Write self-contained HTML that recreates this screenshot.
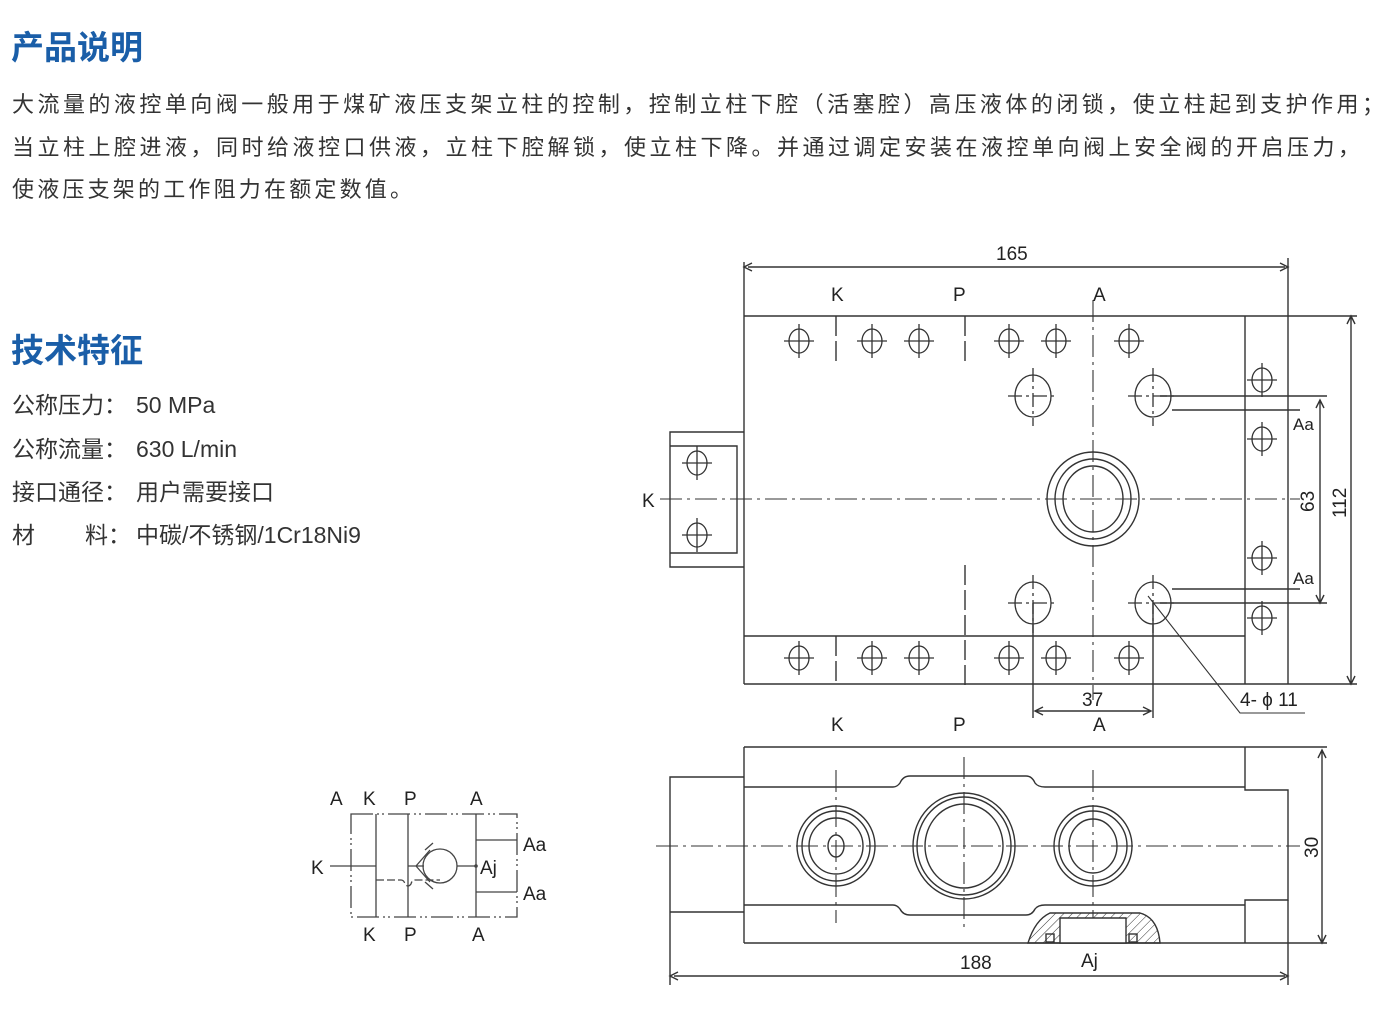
<!DOCTYPE html>
<html><head><meta charset="utf-8"><style>
body{margin:0;background:#fff}
svg{display:block}
.t{font-family:"Liberation Sans","Noto Sans CJK SC",sans-serif;fill:#333}
.h{font-family:"Liberation Sans","Noto Sans CJK SC",sans-serif;fill:#1a5ea8;font-weight:bold;font-size:33px}
.d{font-family:"Liberation Sans",sans-serif;fill:#222;font-size:19px}
</style></head><body>
<svg width="1392" height="1028" viewBox="0 0 1392 1028" xmlns="http://www.w3.org/2000/svg">
<text class="h" x="11" y="59">产品说明</text>
<g class="t" font-size="22">
<text x="12" y="112" textLength="1372">大流量的液控单向阀一般用于煤矿液压支架立柱的控制，控制立柱下腔（活塞腔）高压液体的闭锁，使立柱起到支护作用；</text>
<text x="12" y="155" textLength="1348">当立柱上腔进液，同时给液控口供液，立柱下腔解锁，使立柱下降。并通过调定安装在液控单向阀上安全阀的开启压力，</text>
<text x="12" y="197" textLength="400">使液压支架的工作阻力在额定数值。</text>
</g>
<g class="t" font-size="23">
<text x="12" y="413">公称压力：</text><text x="136" y="413">50 MPa</text>
<text x="12" y="457">公称流量：</text><text x="136" y="457">630 L/min</text>
<text x="12" y="500">接口通径：</text><text x="136" y="500">用户需要接口</text>
<text x="12" y="543">材</text><text x="85" y="543">料：</text><text x="136" y="543">中碳/不锈钢/1Cr18Ni9</text>
</g>
<text class="h" x="11" y="362">技术特征</text>

<defs>
<g id="ch"><ellipse cx="0" cy="0" rx="10" ry="12" fill="none" stroke="#333" stroke-width="1.3"/><path d="M-15 0H15M0-17V17" stroke="#333" stroke-width="1.3"/></g>
<g id="mh"><ellipse cx="0" cy="0" rx="18" ry="21" fill="none" stroke="#333" stroke-width="1.3"/><path d="M-25 0H25M0-28V30" stroke="#333" stroke-width="1.3" stroke-dasharray="14 4 3 4"/></g>
<pattern id="hat" width="6" height="6" patternUnits="userSpaceOnUse" patternTransform="rotate(45)"><line x1="0" y1="0" x2="0" y2="6" stroke="#333" stroke-width="1"/></pattern>
</defs>

<g fill="none" stroke="#333" stroke-width="1.4">
<path d="M744 262V684M1288 258V684M744 316H1357M744 684H1357M1245 316V684M744 636H1245M748 267H1285"/>
<path d="M752 263L744 267L752 271M1280 263L1288 267L1280 271" />
<path d="M744 432H670V567H744M670 446H737V553H670"/>
<path d="M836 316V366M965 316V366M836 636V684M965 565V690" stroke-dasharray="20 5"/>
<path d="M1093 300V700M660 499H1300" stroke-width="1.1" stroke-dasharray="22 5 3 5"/>
<ellipse cx="1093" cy="499" rx="46" ry="47"/><ellipse cx="1093" cy="499" rx="38" ry="40"/><ellipse cx="1093" cy="499" rx="30" ry="33"/>
<path d="M1160 396H1327M1160 603H1327M1172 410H1300M1172 589H1300" />
<path d="M1320 400V603M1316 408L1320 400L1324 408M1316 595L1320 603L1324 595M1351 316V684M1347 324L1351 316L1355 324M1347 676L1351 684L1355 676"/>
<path d="M1033 603V718M1153 603V718M1036 711H1150M1043 707L1035 711L1043 715M1143 707L1151 711L1143 715"/>
<path d="M1148 596L1240 713H1305" stroke-width="1.1"/>
</g>
<g>
<use href="#ch" x="799" y="341"/><use href="#ch" x="872" y="341"/><use href="#ch" x="919" y="341"/><use href="#ch" x="1009" y="341"/><use href="#ch" x="1056" y="341"/><use href="#ch" x="1129" y="341"/>
<use href="#ch" x="799" y="658"/><use href="#ch" x="872" y="658"/><use href="#ch" x="919" y="658"/><use href="#ch" x="1009" y="658"/><use href="#ch" x="1056" y="658"/><use href="#ch" x="1129" y="658"/>
<use href="#ch" x="1262" y="380"/><use href="#ch" x="1262" y="439"/><use href="#ch" x="1262" y="558"/><use href="#ch" x="1262" y="618"/>
<use href="#ch" x="697" y="463"/><use href="#ch" x="697" y="535"/>
<use href="#mh" x="1033" y="396"/><use href="#mh" x="1153" y="396"/><use href="#mh" x="1033" y="603"/><use href="#mh" x="1153" y="603"/>
</g>
<g class="d">
<text x="996" y="260">165</text>
<text x="831" y="301">K</text><text x="953" y="301">P</text><text x="1093" y="301">A</text>
<text x="642" y="507">K</text>
<text x="1293" y="430" font-size="17">Aa</text><text x="1293" y="584" font-size="17">Aa</text>
<text x="1082" y="706">37</text><text x="1240" y="706">4- ϕ 11</text>
<text transform="translate(1314,512) rotate(-90)">63</text>
<text transform="translate(1346,518) rotate(-90)">112</text>
<text x="831" y="731">K</text><text x="953" y="731">P</text><text x="1093" y="731">A</text>
<text x="960" y="969">188</text><text x="1081" y="967">Aj</text>
<text transform="translate(1318,858) rotate(-90)">30</text>
</g>

<g fill="none" stroke="#333" stroke-width="1.4">
<path d="M744 747H1327M744 943H1327M744 747V943M1245 747V790H1288V900H1245V943"/>
<path d="M744 777H670V912H744M670 912V985M1288 900V985M674 976H1285M678 972L670 976L678 980M1280 972L1288 976L1280 980"/>
<path d="M1322 750V943M1318 758L1322 750L1326 758M1318 935L1322 943L1326 935"/>
<path d="M744 787H893Q897 787 900 783Q903 776 910 776H1026Q1032 776 1035 783Q1038 787 1045 787H1245"/>
<path d="M744 905H893Q897 905 900 909Q903 915 910 915H1026Q1032 915 1035 909Q1038 905 1045 905H1245"/>
<path d="M656 846H1300M836 770V923M964 757V930M1093 770V945" stroke-width="1.1" stroke-dasharray="22 5 3 5"/>
<ellipse cx="836" cy="846" rx="39" ry="40"/><ellipse cx="836" cy="846" rx="34" ry="35"/><ellipse cx="836" cy="846" rx="27" ry="28"/><ellipse cx="836" cy="846" rx="8" ry="11"/>
<ellipse cx="964" cy="846" rx="51" ry="53"/><ellipse cx="964" cy="846" rx="47" ry="49"/><ellipse cx="964" cy="846" rx="39" ry="42"/>
<ellipse cx="1093" cy="846" rx="39" ry="40"/><ellipse cx="1093" cy="846" rx="34" ry="35"/><ellipse cx="1093" cy="846" rx="24" ry="27"/>
<path d="M1028 943Q1035 920 1050 913H1140Q1158 918 1160 943Z" fill="url(#hat)"/>
<path d="M1060 918H1126V943H1060Z" fill="#fff"/>
<rect x="1046" y="934" width="8" height="8"/><rect x="1129" y="934" width="8" height="8"/>
</g>

<g fill="none" stroke="#444" stroke-width="1.3">
<path d="M351 814H517V917H351Z" stroke-dasharray="22 4 2 3 2 4"/>
<path d="M376 814V917M408 814V917M476 814V917M330 866H376M476 840H517M476 892H517M457 866H476M408 866H424M416 866L430 850M416 866L430 882"/>
<path d="M376 880H401Q404 880 405 884Q408 888 411 884Q412 880 415 880H440" stroke-dasharray="8 3"/>
<path d="M425 850L433 843M425 882L433 889"/>
<circle cx="440" cy="866" r="17"/>
</g>
<circle cx="476" cy="866" r="1.8" fill="#444"/>
<g class="d" fill="#333" font-size="20">
<text x="330" y="805">A</text><text x="363" y="805">K</text><text x="404" y="805">P</text><text x="470" y="805">A</text>
<text x="311" y="874">K</text><text x="480" y="874">Aj</text>
<text x="523" y="851">Aa</text><text x="523" y="900">Aa</text>
<text x="363" y="941">K</text><text x="404" y="941">P</text><text x="472" y="941">A</text>
</g>
</svg>
</body></html>
